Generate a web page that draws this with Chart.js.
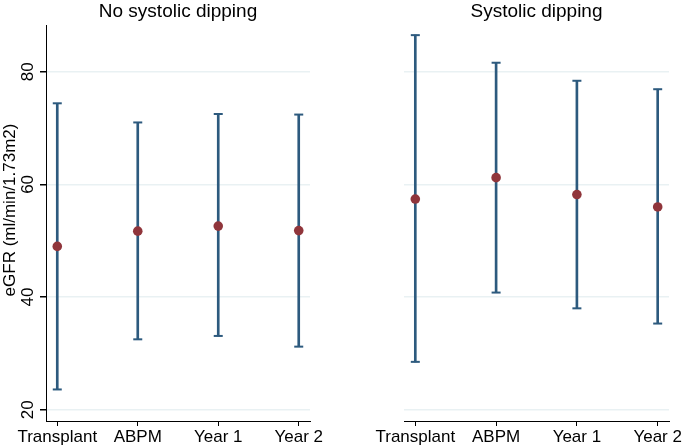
<!DOCTYPE html>
<html>
<head>
<meta charset="utf-8">
<script src="https://cdn.jsdelivr.net/npm/chart.js@4.4.0/dist/chart.umd.min.js"></script>
<style>
  body { margin: 0; background: #fff; }
  #wrap { position: relative; width: 685px; height: 448px; }
  #left { position: absolute; left: 0; top: 0; }
  #right { position: absolute; left: 340px; top: 0; }
</style>
</head>
<body>
<div id="wrap">
  <canvas id="left" width="340" height="448"></canvas>
  <canvas id="right" width="345" height="448"></canvas>
</div>
<script>
// Data
const categories = ['Transplant', 'ABPM', 'Year 1', 'Year 2'];
const yTicks = [20, 40, 60, 80];
const panelTitles = ['No systolic dipping', 'Systolic dipping'];
const yTitle = 'eGFR (ml/min/1.73m2)';

const noDipMean = [49.0, 51.7, 52.6, 51.8];
const noDipLow = [23.6, 32.5, 33.1, 31.2];
const noDipHigh = [74.4, 71.0, 72.5, 72.4];

const dipMean = [57.4, 61.2, 58.2, 56.0];
const dipLow = [28.5, 40.8, 38.0, 35.3];
const dipHigh = [86.5, 81.6, 78.4, 76.9];

const BAR = '#2d5a7e';
const DOT = '#90353b';
const GRID = '#e9f1f3';
const FONT = '"Liberation Sans", Arial, sans-serif';

function makeData(mean, low, high) {
    const xs = categories.map((c, i) => i + 1);
    return {
        datasets: [
            {
                type: 'bar',
                data: xs.map((x, i) => ({ x: x, y: [low[i], high[i]] })),
                backgroundColor: BAR,
                barThickness: 2,
                order: 3
            },
            {
                type: 'scatter',
                data: xs.map((x, i) => ({ x: x, y: low[i] })).concat(xs.map((x, i) => ({ x: x, y: high[i] }))),
                pointStyle: 'line',
                radius: 4.5,
                borderColor: BAR,
                borderWidth: 2,
                order: 2
            },
            {
                type: 'scatter',
                data: xs.map((x, i) => ({ x: x, y: mean[i] })),
                pointStyle: 'circle',
                radius: 4.8,
                backgroundColor: DOT,
                borderColor: DOT,
                borderWidth: 0,
                order: 1
            }
        ]
    };
}

// Draws the panel title and, on the first panel, rotated y tick labels + axis title
function overlay(title, withAxis) {
    return {
        id: 'overlay',
        afterDraw(chart) {
            const ctx = chart.ctx;
            const area = chart.chartArea;
            ctx.save();
            ctx.fillStyle = '#000';
            ctx.font = '19px ' + FONT;
            ctx.textAlign = 'center';
            ctx.textBaseline = 'middle';
            ctx.fillText(title, (area.left + area.right) / 2, 12);
            if (withAxis) {
                const y = chart.scales.y;
                ctx.font = '17px ' + FONT;
                yTicks.forEach(v => {
                    ctx.save();
                    ctx.translate(28, y.getPixelForValue(v));
                    ctx.rotate(-Math.PI / 2);
                    ctx.fillText(String(v), 0, 0);
                    ctx.restore();
                });
                ctx.save();
                ctx.translate(10, 210);
                ctx.rotate(-Math.PI / 2);
                ctx.fillText(yTitle, 0, 0);
                ctx.restore();
            }
            ctx.restore();
        }
    };
}

function makeChart(id, mean, low, high, title, first) {
    new Chart(document.getElementById(id), {
        data: makeData(mean, low, high),
        plugins: [overlay(title, first)],
        options: {
            responsive: false,
            animation: false,
            layout: { padding: { top: 25, right: first ? 30 : 16, bottom: 0, left: 0 } },
            plugins: { legend: { display: false }, tooltip: { enabled: false } },
            scales: {
                x: {
                    type: 'linear',
                    offset: false,
                    min: 0.86,
                    max: 4.14,
                    afterBuildTicks: s => { s.ticks = categories.map((c, i) => ({ value: i + 1 })); },
                    afterFit: s => { s.height = 27; },
                    ticks: {
                        callback: v => categories[v - 1],
                        color: '#000',
                        font: { family: FONT, size: 17 },
                        padding: 1,
                        maxRotation: 0,
                        autoSkip: false
                    },
                    grid: { offset: false, drawOnChartArea: false, drawTicks: true, tickLength: 5, tickColor: '#000' },
                    border: { display: true, color: '#000', width: 1 }
                },
                y: {
                    min: 18,
                    max: 88.3,
                    afterBuildTicks: s => { s.ticks = yTicks.map(v => ({ value: v })); },
                    afterFit: s => { s.width = first ? 46 : 64; },
                    ticks: { display: false },
                    grid: {
                        color: GRID,
                        lineWidth: 1.5,
                        drawTicks: first,
                        tickLength: 6,
                        tickColor: '#000'
                    },
                    border: { display: first, color: '#000', width: 1 }
                }
            }
        }
    });
}

makeChart('left', noDipMean, noDipLow, noDipHigh, panelTitles[0], true);
makeChart('right', dipMean, dipLow, dipHigh, panelTitles[1], false);
</script>
</body>
</html>
